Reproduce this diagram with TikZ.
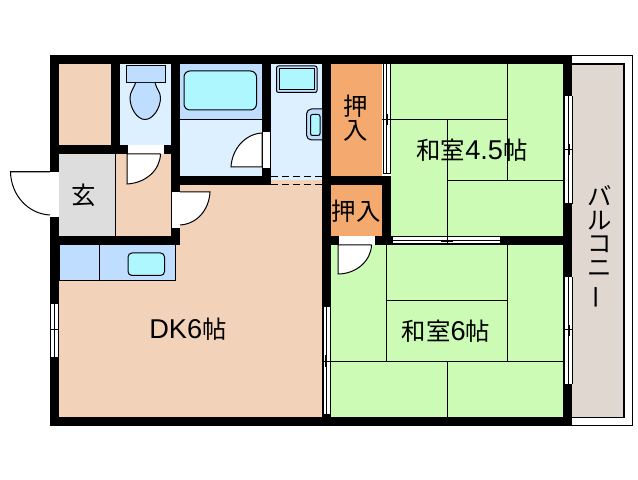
\documentclass[tikz,border=0pt]{standalone}
\usepackage{fontspec}
\setmainfont{Noto Sans CJK JP}
\newfontfamily\latinfont{Liberation Sans}
\usetikzlibrary{calc}
\definecolor{dk}{HTML}{F2D2B8}
\definecolor{tatami}{HTML}{CBFBB5}
\definecolor{oshi}{HTML}{F4AA6E}
\definecolor{genkan}{HTML}{DDDDDD}
\definecolor{wet}{HTML}{DDF0FF}
\definecolor{fixture}{HTML}{BFDDFF}
\definecolor{water}{HTML}{AFF7FF}
\definecolor{balcony}{HTML}{E0D8D0}
\tikzset{wall/.style={
    fill=black,
    draw=none}}
\tikzset{line/.style={
    draw=black,
    line width=0.5pt}}
\tikzset{gap/.style={
    fill=white,
    draw=none}}
\tikzset{label/.style={
    inner sep=0pt,
    font=\fontsize{12.2}{13}\selectfont}}
\newcommand{\lat}[1]{{\latinfont\fontsize{13.6}{14}\selectfont #1}}
\newcommand{\slidev}[4]{% vertical sliding window: x left, x right, y top, y bottom
  \fill[white] (#1,#3) rectangle (#2,#4);
  \draw[line] (#1,#3) -- (#1,#4) (#2,#3) -- (#2,#4) (#1,#3) -- (#2,#3) (#1,#4) -- (#2,#4);
  \draw[line] ($(#1,#3)!0.5!(#2,#3)$) -- ($(#1,#4)!0.5!(#2,#4)$);
}

\begin{document}
\begin{tikzpicture}[x=0.5pt,y=-0.5pt]

\useasboundingbox (0,0) rectangle (638,480);
\fill[white] (0,0) rectangle (638,480);

% balcony
\draw[line,line width=0.75pt] (572,55.5) -- (632.5,55.5) -- (632.5,425.5) -- (572,425.5);
\draw[line,line width=0.75pt,fill=balcony] (572,64) -- (624,64) -- (624,417.5) -- (572,417.5);

% rooms
\fill[dk] (59,64) rectangle (111,145);
\fill[wet] (120,64) rectangle (171,145);
\fill[fixture] (180,64) rectangle (262,119.5);
\fill[wet] (180,119.5) rectangle (262,176);
\fill[wet] (271,64) rectangle (322,180);
\fill[genkan] (59,154) rectangle (115.5,236);
\fill[dk] (115.5,154) rectangle (171,236);
\fill[dk] (59,245) rectangle (180,417);
\fill[dk] (180,180) rectangle (322,417);
\fill[oshi] (331,64) rectangle (382,176);
\fill[oshi] (331,185) rectangle (382,236);
\fill[tatami] (391,64) rectangle (563,236);
\fill[tatami] (331,245) rectangle (563,417);

% walls
\fill[wall] (50,55) rectangle (572,64);
\fill[wall] (50,417) rectangle (572,426);
\fill[wall] (50,55) rectangle (59,426);
\fill[wall] (563,55) rectangle (572,426);
\fill[wall] (111,64) rectangle (120,145);
\fill[wall] (59,145) rectangle (180,154);
\fill[wall] (171,64) rectangle (180,245);
\fill[wall] (50,236) rectangle (180,245);
\fill[wall] (262,64) rectangle (271,185);
\fill[wall] (171,176) rectangle (271,185);
\fill[wall] (322,64) rectangle (331,417);
\fill[wall] (322,176) rectangle (391,185);
\fill[wall] (382,176) rectangle (391,245);
\fill[wall] (322,236) rectangle (563,245);

% kitchen counter
\draw[line,fill=fixture] (59,245) rectangle (175.5,280.5);
\draw[line] (99.5,245) -- (99.5,280.5);
\draw[line,fill=water,rounded corners=2] (128,253) rectangle (164.5,275.5);
\fill[wall] (59,236) rectangle (180,245);

% toilet
\draw[line,fill=fixture] (126,66) rectangle (165,83);
\draw[line,fill=fixture] (135.5,83) .. controls (133,90) and (130,92) .. (130,98)
  .. controls (130,108) and (137,119.5) .. (145,119.5)
  .. controls (153,119.5) and (160.5,108) .. (160.5,98)
  .. controls (160.5,92) and (157,90) .. (155,83);

% bath
\draw[line] (180,119.5) -- (262,119.5);
\draw[line,fill=water,rounded corners=3] (184,71) rectangle (256.5,110);

% washroom
\draw[line,fill=fixture,rounded corners=1] (276.5,66) rectangle (317,92.5);
\draw[line,fill=water] (279,68.5) rectangle (314.5,90);
\draw[line,fill=fixture,rounded corners=2.5] (322,109) -- (306.5,109) -- (306.5,140) -- (322,140);
\draw[line,fill=water,rounded corners=1] (320,114.5) -- (310.5,114.5) -- (310.5,135.5) -- (320,135.5) -- cycle;
\draw[line,dashed,dash pattern=on 3.5pt off 2pt] (271,176.5) -- (322,176.5);
\draw[line,dashed,dash pattern=on 3.5pt off 2pt] (271,184.5) -- (322,184.5);

% partition in the entrance
\draw[line] (115.5,154) -- (115.5,236);

% doors
\fill[gap] (50,172) rectangle (59,218);
\draw[line] (50,172) -- (59,172) (50,218) -- (59,218) (50,172) -- (10,172);
\draw[line,fill=white] (50,172) -- (10.5,172) .. controls (11,195) and (28,214) .. (50,215);

\fill[gap] (127,145) rectangle (164,154);
\draw[line,fill=white] (160.5,154) -- (127,154) -- (127,184) .. controls (146,183) and (160,170) .. (160.5,154);
\draw[line] (127,145) -- (127,154);

\fill[gap] (171.5,192) rectangle (180,229);
\draw[line] (171.5,192) -- (171.5,229);
\draw[line,fill=white] (180,192) -- (210,192) .. controls (209,210) and (197,224) .. (180,225);
\draw[line] (171.5,192) -- (180,192) (171.5,229) -- (180,229);

\fill[gap] (262.5,132) rectangle (270.5,168);
\draw[line,fill=white] (262,133) -- (262,167) -- (231,167) .. controls (232,149) and (245,134) .. (262,133);
\draw[line] (270.5,132) -- (270.5,168);

\fill[gap] (338,236) rectangle (375,245);
\draw[line,fill=white] (371.5,245) -- (338,245) -- (338,274) .. controls (356,274) and (371,261) .. (371.5,245);
\draw[line] (338,236) -- (338,245);

% tatami
\draw[line] (507.5,64) -- (507.5,180);
\draw[line] (391,119.5) -- (507.5,119.5);
\draw[line] (447.5,119.5) -- (447.5,236);
\draw[line] (447.5,180.5) -- (563,180.5);
\draw[line] (386.5,245) -- (386.5,361.5);
\draw[line] (507.5,245) -- (507.5,361.5);
\draw[line] (386.5,300.5) -- (507.5,300.5);
\draw[line] (331,361.5) -- (563,361.5);
\draw[line] (447.5,361.5) -- (447.5,417);

% windows
\slidev{383}{390.5}{64}{174}
\draw[line] (382,119.5) -- (391,119.5) (387.5,114) -- (387.5,125);
\slidev{564}{572}{96}{204}
\draw[line] (564,149.5) -- (572,149.5) (569,144) -- (569,155);
\slidev{564}{572}{277}{384.5}
\draw[line] (564,330) -- (572,330) (569,325) -- (569,336);
\slidev{50.5}{58}{303.5}{357.5}
\draw[line] (50.5,330) -- (58,330) (54.5,328) -- (54.5,336);
\slidev{323}{330.5}{307}{414.5}
\draw[line] (323,361.5) -- (330.5,361.5) (325,355) -- (325,367);

% sliding door between the tatami rooms
\fill[gap] (392.5,237) rectangle (500.5,244);
\draw[line] (392.5,237) -- (500.5,237) (392.5,244) -- (500.5,244) (392.5,240.5) -- (500.5,240.5) (500.5,237) -- (500.5,244);
\draw[line] (447.5,236) -- (447.5,245) (441,242) -- (453,242);

% labels
\node[label] (genkanlabel) at (84,195) {玄};
\node[label] (dklabel) at (188,329) {\lat{DK6}帖};
\node[label] (oshia) at (356,106) {押};
\node[label] (oshib) at (356,131) {入};
\node[label] (oshic) at (356,211) {押入};
\node[label] (room45) at (472,150) {和室\lat{4.5}帖};
\node[label] (room6) at (446,331) {和室\lat{6}帖};
\node[label] (ba) at (600,196) {バ};
\node[label] (ru) at (600,221) {ル};
\node[label] (ko) at (600,244) {コ};
\node[label] (ni) at (600,268.5) {ニ};
\node[label] (nobi) at (600,297) {\rotatebox{90}{ー}};

\end{tikzpicture}
\end{document}
